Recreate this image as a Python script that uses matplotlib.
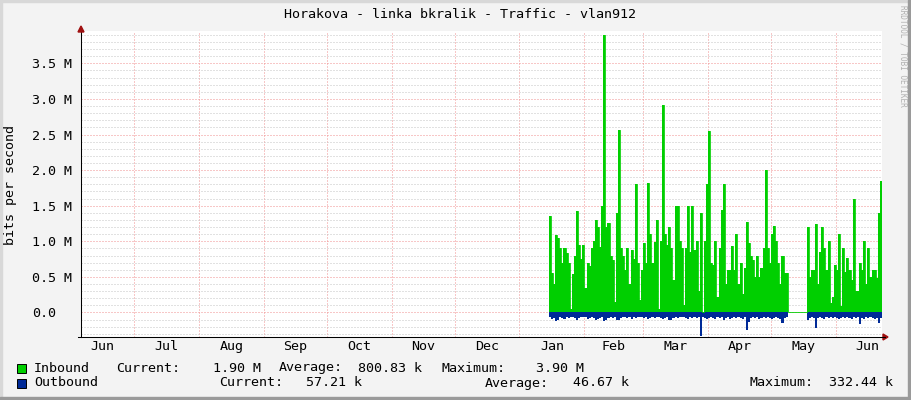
import numpy as np
import matplotlib
matplotlib.use("Agg")
import matplotlib.pyplot as plt
import matplotlib.dates as mdates
from matplotlib.ticker import MultipleLocator, FixedLocator, NullFormatter
from matplotlib.lines import Line2D
from matplotlib.patches import Rectangle

# ---------------- data ----------------
title = "Horakova - linka bkralik - Traffic - vlan912"
ylabel = "bits per second"
month_starts = ["2012-06-01", "2012-07-01", "2012-08-01", "2012-09-01", "2012-10-01",
                "2012-11-01", "2012-12-01", "2013-01-01", "2013-02-01", "2013-03-01",
                "2013-04-01", "2013-05-01", "2013-06-01", "2013-07-01"]
month_labels = ["Jun", "Jul", "Aug", "Sep", "Oct", "Nov", "Dec",
                "Jan", "Feb", "Mar", "Apr", "May", "Jun"]
series_start = "2013-01-15"   # first daily sample

# daily averages, Mbit/s
inbound_M = [
    1.36, 0.55, 0.40, 1.09, 1.05, 0.90, 0.70, 0.90, 0.83, 0.70,
    0.05, 0.54, 0.80, 1.43, 0.95, 0.75, 0.95, 0.35, 0.70, 0.65,
    0.90, 1.00, 1.30, 1.20, 0.92, 1.50, 3.90, 1.20, 1.26, 0.80,
    0.74, 0.15, 1.40, 2.56, 0.90, 0.80, 0.60, 0.90, 0.40, 0.88,
    0.75, 1.81, 0.70, 0.17, 0.60, 0.97, 0.70, 1.82, 1.10, 0.70,
    0.99, 1.30, 0.05, 1.00, 2.92, 1.10, 0.95, 1.20, 0.90, 0.45,
    1.50, 1.50, 1.00, 0.90, 0.10, 0.90, 1.49, 0.85, 1.50, 0.88,
    1.00, 0.30, 1.40, 0.00, 1.00, 1.80, 2.55, 0.70, 0.67, 1.00,
    0.22, 0.90, 1.44, 1.80, 0.40, 0.60, 0.60, 0.93, 0.60, 1.10,
    0.40, 0.70, 0.26, 0.63, 1.27, 0.97, 0.80, 0.74, 0.50, 0.80,
    0.50, 0.63, 0.90, 2.00, 0.90, 0.70, 1.10, 1.22, 1.00, 0.70,
    0.40, 0.80, 0.55, 0.55, 0.00, 0.00, 0.00, 0.00, 0.00, 0.00,
    0.00, 0.00, 0.00, 1.20, 0.50, 0.60, 0.60, 1.24, 0.40, 0.85,
    1.20, 0.90, 0.60, 1.00, 0.13, 0.22, 0.67, 0.60, 1.10, 0.09,
    0.90, 0.57, 0.77, 0.60, 0.45, 1.60, 0.30, 0.30, 0.69, 0.60,
    1.00, 0.40, 0.90, 0.50, 0.60, 0.60, 0.49, 1.40, 1.85,
]
outbound_M = [
    0.07, 0.09, 0.08, 0.12, 0.10, 0.07, 0.08, 0.09, 0.07, 0.08,
    0.06, 0.07, 0.08, 0.10, 0.08, 0.07, 0.06, 0.07, 0.09, 0.08,
    0.07, 0.08, 0.10, 0.09, 0.08, 0.07, 0.12, 0.11, 0.08, 0.07,
    0.08, 0.07, 0.11, 0.10, 0.08, 0.07, 0.06, 0.08, 0.07, 0.09,
    0.07, 0.08, 0.07, 0.06, 0.07, 0.08, 0.07, 0.09, 0.08, 0.07,
    0.08, 0.07, 0.06, 0.08, 0.09, 0.08, 0.07, 0.11, 0.10, 0.08,
    0.07, 0.08, 0.07, 0.07, 0.06, 0.08, 0.09, 0.07, 0.08, 0.07,
    0.08, 0.07, 0.33, 0.07, 0.08, 0.09, 0.08, 0.07, 0.08, 0.09,
    0.07, 0.08, 0.07, 0.10, 0.08, 0.07, 0.09, 0.08, 0.07, 0.08,
    0.07, 0.08, 0.09, 0.07, 0.24, 0.14, 0.08, 0.07, 0.08, 0.07,
    0.09, 0.08, 0.07, 0.08, 0.07, 0.08, 0.09, 0.08, 0.07, 0.08,
    0.09, 0.15, 0.08, 0.07, 0.00, 0.00, 0.00, 0.00, 0.00, 0.00,
    0.00, 0.00, 0.00, 0.10, 0.08, 0.07, 0.08, 0.22, 0.08, 0.07,
    0.08, 0.09, 0.07, 0.08, 0.07, 0.08, 0.07, 0.08, 0.09, 0.08,
    0.07, 0.08, 0.07, 0.08, 0.09, 0.07, 0.08, 0.07, 0.16, 0.08,
    0.09, 0.07, 0.08, 0.07, 0.08, 0.09, 0.08, 0.15, 0.08,
]

legend_in = ["Inbound", "Current:", "1.90 M", "Average:", "800.83 k", "Maximum:", "3.90 M"]
legend_out = ["Outbound", "Current:", "57.21 k", "Average:", "46.67 k", "Maximum:", "332.44 k"]

# ---------------- style ----------------
W, H = 911, 400
BG = "#f3f3f3"
IN_C = "#00cf00"
OUT_C = "#002a97"
MGRID = "#f09090"
GRID = "#c4c4c4"
FONT = "DejaVu Sans Mono"
FS = 9.65

plt.rcParams["font.family"] = FONT
plt.rcParams["lines.scale_dashes"] = False


def fx(px):
    return px / W


def fy(py):
    return 1 - py / H


fig = plt.figure(figsize=(W / 100, H / 100), dpi=100, facecolor=BG)

L, R, T, B = 81, 882, 31, 337
ax = fig.add_axes([fx(L), fy(B), fx(R - L), (B - T) / H])
ax.set_facecolor("white")

n = len(inbound_M)
t0 = np.datetime64(series_start)
edges = mdates.date2num(t0 + np.arange(n + 1).astype("timedelta64[D]"))
inb = np.array(inbound_M + [inbound_M[-1]]) * 1e6
outb = -np.array(outbound_M + [outbound_M[-1]]) * 1e6

ax.fill_between(edges, 0, inb, step="post", color=IN_C, lw=0, zorder=3)
ax.fill_between(edges, 0, outb, step="post", color=OUT_C, lw=0, zorder=3)
ax.step(edges, inb, where="post", color=IN_C, lw=0.6, zorder=3)

# x axis
ms = mdates.date2num(np.array(month_starts, dtype="datetime64[D]"))
mid = (ms[:-1] + ms[1:]) / 2
ax.set_xlim(mdates.date2num(np.datetime64("2012-06-05T18:00")),
            mdates.date2num(np.datetime64("2013-06-23T00:00")))
ax.xaxis.set_major_locator(FixedLocator(ms))
ax.xaxis.set_major_formatter(NullFormatter())
ax.xaxis.set_minor_locator(FixedLocator(mid))
ax.set_xticklabels(month_labels, minor=True)
ax.tick_params(axis="x", which="both", length=0, pad=2.5, labelsize=FS)

# y axis
ax.set_ylim(-0.345e6, 3.955e6)
yt = np.arange(0, 3.51e6, 0.5e6)
ax.set_yticks(yt)
ax.set_yticklabels(["0.0" if v == 0 else f"{v / 1e6:.1f} M" for v in yt])
for lab in ax.get_yticklabels():
    lab.set_horizontalalignment("left")
ax.tick_params(axis="y", which="both", length=0, pad=35.5, labelsize=FS)
ax.yaxis.set_minor_locator(MultipleLocator(0.1e6))

ax.set_axisbelow(True)
minor_dot = (0, (0.72, 1.44))
major_dot = (0, (0.72, 1.44))
ax.grid(which="minor", axis="y", color=GRID, lw=0.72, linestyle=minor_dot, zorder=0)
ax.grid(which="major", axis="y", color=MGRID, lw=0.72, linestyle=major_dot, zorder=1)
ax.grid(which="major", axis="x", color=MGRID, lw=0.72, linestyle=major_dot, zorder=1)
ax.grid(which="minor", axis="x", visible=False)

for s in ["top", "right"]:
    ax.spines[s].set_visible(False)
for s in ["left", "bottom"]:
    ax.spines[s].set_color("#000000")
    ax.spines[s].set_linewidth(0.75)
    ax.spines[s].set_zorder(5)

# arrows
fig.add_artist(Line2D([fx(R), fx(R + 3)], [fy(B), fy(B)], color="black", lw=0.75))
fig.patches.append(plt.Polygon([[fx(R + 1), fy(B - 3)], [fx(R + 1), fy(B + 3)], [fx(R + 6), fy(B)]],
                               closed=True, color="#a01010", transform=fig.transFigure))
fig.patches.append(plt.Polygon([[fx(L - 3), fy(T + 1)], [fx(L + 3), fy(T + 1)], [fx(L), fy(T - 5)]],
                               closed=True, color="#a01010", transform=fig.transFigure))
fig.add_artist(Line2D([fx(L - 3), fx(L)], [fy(B), fy(B)], color="black", lw=0.75))

# title and y label
fig.text(fx(460), fy(14), title, ha="center", va="center", fontsize=FS, color="#000000")
fig.text(fx(11), fy(185), ylabel, ha="center", va="center", rotation=90, fontsize=FS)
fig.text(fx(903), fy(5), "RRDTOOL / TOBI OETIKER", ha="center", va="top", rotation=270,
         fontsize=5.6, color="#b0b0b0")

# legend
for (py, col, labels, xs) in [
        (368, IN_C, legend_in, [34, 116, 213, 279, 358, 441, 536]),
        (383, OUT_C, legend_out, [34, 219, 306, 485, 573, 749, 829])]:
    fig.patches.append(Rectangle((fx(17), fy(py + 5)), fx(9), 9 / H, facecolor=col,
                                 edgecolor="black", lw=0.7, transform=fig.transFigure))
    for lab, x in zip(labels, xs):
        fig.text(fx(x), fy(py), lab, ha="left", va="center", fontsize=FS, color="#000000")

# 3D frame
fig.patches.append(Rectangle((0, fy(2)), 1, 2 / H, color="#d8d8d8", transform=fig.transFigure))
fig.patches.append(Rectangle((0, 0), fx(2), 1, color="#d8d8d8", transform=fig.transFigure))
fig.patches.append(Rectangle((fx(W - 3), 0), fx(3), 1, color="#9a9a9a", transform=fig.transFigure))
fig.patches.append(Rectangle((0, 0), 1, 3 / H, color="#9a9a9a", transform=fig.transFigure))

fig.savefig("out.png", dpi=100, facecolor=BG)
